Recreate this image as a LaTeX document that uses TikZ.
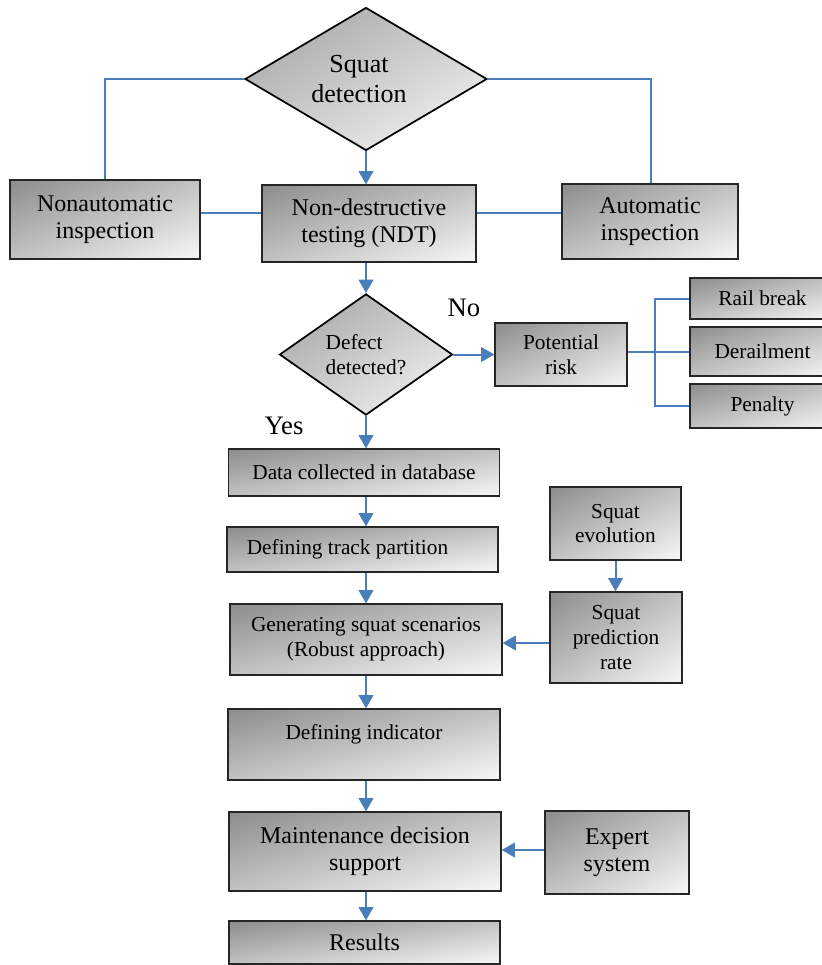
\documentclass[tikz,border=0pt]{standalone}
\usepackage{fontspec}
\setmainfont{Liberation Serif}
\usetikzlibrary{arrows.meta,shapes.geometric}
\definecolor{lblue}{HTML}{4A7EBB}
\pgfdeclarefunctionalshading{boxshade}{\pgfpointorigin}{\pgfpoint{100bp}{100bp}}{}{
  75 exch sub exch 25 sub add 100 div 0.42 mul 0.55 add dup dup
}
\pgfdeclarefunctionalshading{diashade}{\pgfpointorigin}{\pgfpoint{100bp}{100bp}}{}{
  75 exch sub exch 25 sub add 100 div 0.36 mul 0.62 add dup dup
}
\tikzset{
  box/.style={draw=black!85, line width=0.9pt, shading=boxshade, align=center,
    inner sep=0pt, font=\fontsize{16}{18.5}\selectfont},
  sz/.style 2 args={minimum width=#1*0.75pt, minimum height=#2*0.75pt},
  bigfont/.style={font=\fontsize{18}{20.5}\selectfont},
  dia/.style={diamond, draw=black, line width=1.3pt, shading=diashade, inner sep=0pt, align=center},
  conn/.style={draw=lblue, line width=1.5pt},
  arr/.style={conn, -{Triangle[length=10pt,width=11pt]}},
  lbl/.style={font=\fontsize{20}{22}\selectfont, inner sep=0pt},
}
\begin{document}
\begin{tikzpicture}[x=0.75pt,y=-0.75pt]
\useasboundingbox (0,0) rectangle (822,965);
% top diamond
\node[dia, sz={242}{143}, font=\fontsize{19.5}{22.5}\selectfont] (squat) at (366,79)
  {\hspace*{-10.5pt}Squat\\\hspace*{-10.5pt}detection};
% top row
\node[box, bigfont, sz={190}{79}] (nonauto) at (105,219.5) {Nonautomatic\\inspection};
\node[box, bigfont, sz={214}{77}] (ndt) at (369,223.5) {Non-destructive\\testing (NDT)};
\node[box, bigfont, sz={176}{75}] (auto) at (650,221.5) {Automatic\\inspection};
\coordinate (hy) at (0,213);
\coordinate (vr) at (651,0);
\draw[conn] (squat.west) -| (nonauto.north);
\draw[conn] (squat.east) -| (vr |- auto.north);
\draw[conn] (nonauto.east |- hy) -- (ndt.west |- hy);
\draw[conn] (ndt.east |- hy) -- (auto.west |- hy);
\draw[arr] (squat.south) -- (squat.south |- ndt.north);
% defect diamond
\node[dia, sz={173}{121}, align=left, font=\fontsize{16}{19}\selectfont] (defect) at (366,354.5)
  {Defect\\detected?};
\draw[arr] (squat.south |- ndt.south) -- (defect.north);
\node[box, sz={132}{63}] (risk) at (561,354.5) {Potential\\risk};
\draw[arr] (defect.east) -- (risk.west);
\node[box, sz={145}{41}] (rail) at (762.5,298.5) {Rail break};
\node[box, sz={145}{49}] (derail) at (762.5,351.5) {Derailment};
\node[box, sz={145}{44}] (penalty) at (762.5,406) {Penalty};
\coordinate (bx) at (655,0);
\draw[conn] (risk.east |- derail.west) -- (derail.west);
\draw[conn] (rail.west) -| (bx |- derail.west) |- (penalty.west);
\node[lbl] (no) at (464,308) {No};
\node[lbl] (yes) at (284,426) {Yes};
% main chain
\node[box, sz={271}{47}] (data) at (364,472.5) {Data collected in database};
\draw[arr] (defect.south) -- (defect.south |- data.north);
\node[box, sz={271}{45}] (track) at (362.5,549.5) {\hspace*{-22.5pt}Defining track partition};
\draw[arr] (defect.south |- data.south) -- (defect.south |- track.north);
\node[box, sz={272}{71}] (gen) at (366,639.5) {Generating squat scenarios\\(Robust approach)};
\draw[arr] (defect.south |- track.south) -- (defect.south |- gen.north);
\node[box, sz={131}{73}] (evol) at (615.5,523.5) {Squat\\evolution};
\node[box, sz={132}{91}] (pred) at (616,637.5) {Squat\\prediction\\rate};
\draw[arr] (evol.south) -- (evol.south |- pred.north);
\coordinate (py) at (0,643);
\draw[arr] (pred.west |- py) -- (gen.east |- py);
\node[box, sz={272}{71}] (ind) at (364,744.5) {Defining indicator\\\mbox{}};
\draw[arr] (defect.south |- gen.south) -- (defect.south |- ind.north);
\node[box, bigfont, sz={272}{79}] (maint) at (365,851.5) {Maintenance decision\\support};
\draw[arr] (defect.south |- ind.south) -- (defect.south |- maint.north);
\node[box, bigfont, sz={144}{83}] (expert) at (617,852.5) {Expert\\system};
\coordinate (ey) at (0,850);
\draw[arr] (expert.west |- ey) -- (maint.east |- ey);
\node[box, bigfont, sz={271}{43}] (res) at (364.5,942.5) {Results};
\draw[arr] (defect.south |- maint.south) -- (defect.south |- res.north);
\end{tikzpicture}
\end{document}
